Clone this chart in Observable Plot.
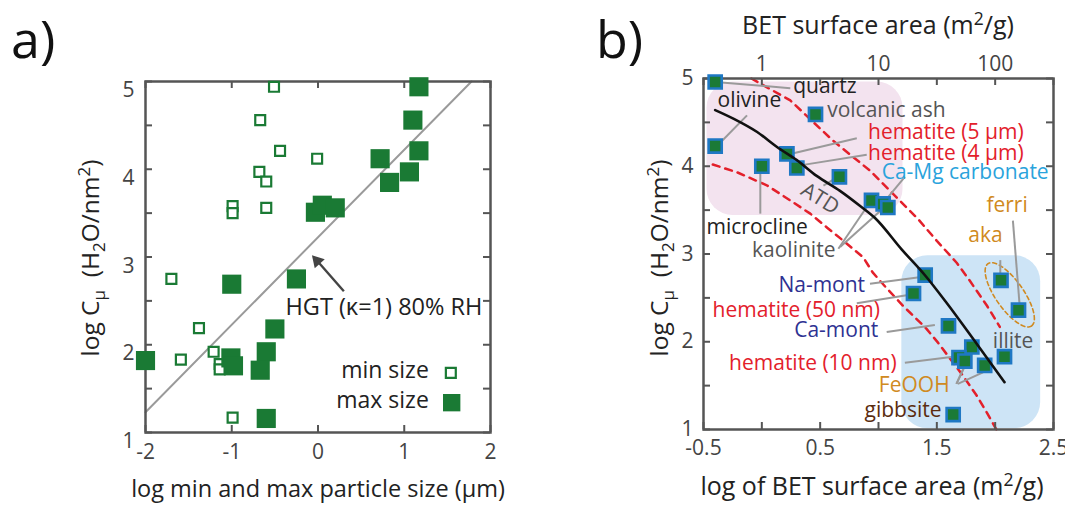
<!DOCTYPE html>
<html><head><meta charset="utf-8">
<script src="https://cdn.jsdelivr.net/npm/d3@7"></script>
<script src="https://cdn.jsdelivr.net/npm/@observablehq/plot@0.6"></script>
<style>
body{margin:0;background:#fff;font-family:"Open Sans",sans-serif;}
#wrap{position:relative;width:1065px;height:506px;overflow:hidden;background:#fff;}
.panel{position:absolute;top:0;}
</style></head><body><div id="wrap"></div>
<script>
const FONT = '"Open Sans", sans-serif';

// ---------- Panel a data ----------
const minSizeX = [-0.51,-0.67,-0.44,-0.01,-0.68,-0.60,-0.99,-0.99,-0.60,-1.70,-1.38,-1.59,-1.21,-1.14,-1.14,-0.99];
const minSizeY = [4.94,4.56,4.21,4.12,3.97,3.86,3.58,3.50,3.56,2.75,2.19,1.83,1.92,1.78,1.72,1.17];
const maxSizeX = [1.17,1.10,1.17,0.72,1.06,0.83,-0.03,0.05,0.20,-1.00,-0.25,-0.50,-0.60,-1.01,-0.98,-0.67,-2.00,-0.60];
const maxSizeY = [4.94,4.56,4.21,4.12,3.97,3.85,3.51,3.59,3.56,2.69,2.75,2.18,1.92,1.85,1.76,1.71,1.82,1.16];
const hgtLineX = [-2, 1.78];
const hgtLineY = [1.23, 5];
const aXTicks = [-2,-1,0,1,2];
const aYTicks = [1,1.5,2,2.5,3,3.5,4,4.5,5];
const aYLabels = [1,2,3,4,5];

// ---------- Panel b data ----------
const bName = ["quartz","volcanic ash","olivine","microcline","hematite (5 μm)","hematite (4 μm)","ATD","kaolinite","Ca-Mg carbonate","kaolinite","Na-mont","hematite (50 nm)","aka","ferri","Ca-mont","FeOOH","hematite (10 nm)","FeOOH","FeOOH","illite","gibbsite"];
const bLogBET = [-0.40,0.46,-0.40,0.00,0.215,0.30,0.665,0.94,1.04,1.08,1.40,1.30,2.05,2.20,1.60,1.80,1.69,1.74,1.91,2.08,1.64];
const bLogC = [4.96,4.59,4.23,4.00,4.14,3.98,3.88,3.61,3.57,3.53,2.76,2.55,2.70,2.36,2.18,1.94,1.82,1.78,1.73,1.83,1.17];
const fitX = [-0.40,-0.24,-0.04,0.13,0.30,0.47,0.67,0.84,0.97,1.20,1.40,1.58,1.84,2.08];
const fitY = [4.64,4.54,4.39,4.22,4.07,3.89,3.72,3.55,3.41,3.05,2.755,2.45,1.98,1.54];
const dashUpperX = [-0.09,0.244,0.611,0.927,1.338,1.50,1.67,1.78,1.93,2.04];
const dashUpperY = [5.0,4.75,4.29,3.95,3.40,3.15,2.90,2.70,2.41,2.17];
const dashLowerX = [-0.42,-0.21,0.047,0.244,0.415,0.56,0.70,0.87,0.95,1.07,1.21,1.41,1.51,1.72,1.84,1.93,2.01];
const dashLowerY = [4.02,3.93,3.78,3.61,3.46,3.30,3.15,2.96,2.79,2.61,2.41,2.15,1.99,1.62,1.39,1.19,1.0];
const bXTicks = [-0.5,0,0.5,1,1.5,2,2.5];
const bXLabels = [-0.5,0.5,1.5,2.5];
const bYTicks = [1,1.5,2,2.5,3,3.5,4,4.5,5];
const bYLabels = [1,2,3,4,5];
const topTicks = [0,1,2];
const topTickLabels = ["1","10","100"];

// annotation labels (panel b)
const labText   = ["quartz","olivine","volcanic ash","hematite (5 μm)","hematite (4 μm)","Ca-Mg carbonate","ferri","aka","microcline","kaolinite","illite","Na-mont","hematite (50 nm)","Ca-mont","hematite (10 nm)","FeOOH","gibbsite"];
const labX      = [0.269,-0.38,0.56,0.91,0.91,1.027,1.925,1.77,-0.474,-0.084,1.98,0.885,1.013,0.998,1.155,1.61,1.54];
const labY      = [4.91,4.75,4.64,4.39,4.15,3.93,3.55,3.21,3.30,3.04,2.0,2.64,2.36,2.13,1.75,1.50,1.22];
const labColor  = ["#222","#222","#555","#e3202b","#e3202b","#2aa3dc","#d08a21","#d08a21","#222","#555","#555","#2e3192","#e3202b","#2e3192","#e3202b","#d08a21","#5b2c0f"];
const labAnchor = ["start","start","start","start","start","start","start","start","start","start","start","end","end","end","end","end","end"];
// leader lines (panel b)
const leadX1 = [-0.397,-0.355,0.244,0.329,0.528,-0.013,1.084,0.656,0.671,0.927,0.814,1.07,1.226,1.668,1.668,1.68,2.044,2.152];
const leadY1 = [4.96,4.27,4.14,4.01,3.78,3.95,3.65,3.06,3.08,2.66,2.44,2.11,1.76,1.52,1.52,1.52,2.93,3.38];
const leadX2 = [0.244,-0.127,0.814,0.899,0.628,-0.013,1.226,0.927,1.041,1.383,1.241,1.483,1.64,1.81,1.754,1.896,2.044,2.21];
const leadY2 = [4.89,4.58,4.32,4.13,3.86,3.46,3.88,3.59,3.52,2.74,2.53,2.19,1.83,1.92,1.77,1.65,2.76,2.41];

// ---------- build panel a ----------
const wrap = document.getElementById("wrap");
const H = 506;
const WA = 540, mA = {l:145, r:50, t:81, b:74};
const fwA = WA - mA.l - mA.r, fhA = H - mA.t - mA.b;
const green = "#1a7a34";
const minPts = minSizeX.map((x,i)=>({x, y:minSizeY[i]}));
const maxPts = maxSizeX.map((x,i)=>({x, y:maxSizeY[i]}));
const hgt = hgtLineX.map((x,i)=>({x, y:hgtLineY[i]}));

const plotA = Plot.plot({
  width: WA, height: H,
  marginLeft: mA.l, marginRight: mA.r, marginTop: mA.t, marginBottom: mA.b,
  x: {domain: [-2,2]}, y: {domain: [1,5]},
  style: {fontFamily: FONT, background: "transparent", overflow: "visible"},
  marks: [
    Plot.line(hgt, {x:"x", y:"y", stroke:"#9a9a9a", strokeWidth:2}),
    Plot.tickX(aXTicks, {insetTop: fhA-7, stroke:"#555", strokeWidth:2}),
    Plot.tickX(aXTicks, {insetBottom: fhA-7, stroke:"#555", strokeWidth:2}),
    Plot.tickY(aYTicks, {insetLeft: fwA-7, stroke:"#555", strokeWidth:2}),
    Plot.tickY(aYTicks, {insetRight: fwA-7, stroke:"#555", strokeWidth:2}),
    Plot.frame({stroke:"#555", strokeWidth:2.5}),
    Plot.axisX(aXTicks, {tickSize:0, tickPadding:12, fontSize:21, fill:"#444", label:null, tickFormat:d=>String(d)}),
    Plot.axisY(aYLabels, {tickSize:0, tickPadding:11, fontSize:21, fill:"#444", dy:9, label:null, tickFormat:d=>String(d)}),
    Plot.dot(minPts, {x:"x", y:"y", symbol:"square", r:5.6, fill:"white", stroke:green, strokeWidth:2.2}),
    Plot.dot(maxPts, {x:"x", y:"y", symbol:"square", r:10.8, fill:green}),
    Plot.link([{x1:0.30, y1:2.61, x2:0.0, y2:2.945}], {x1:"x1", y1:"y1", x2:"x2", y2:"y2", stroke:"#444", strokeWidth:2.4}),
    Plot.dot([{x:-0.01, y:2.955}], {x:"x", y:"y", symbol:"triangle", r:5, rotate:-42, fill:"#444"}),
    Plot.text(["HGT (κ=1) 80% RH"], {x:-0.377, y:2.42, text:d=>d, textAnchor:"start", fontSize:23.5, fill:"#222"}),
    Plot.text(["min size","max size"], {x:1.285, y:[1.70,1.36], text:d=>d, textAnchor:"end", fontSize:23, fill:"#222"}),
    Plot.dot([{x:1.54,y:1.68}], {x:"x", y:"y", symbol:"square", r:5.6, fill:"white", stroke:green, strokeWidth:2.2}),
    Plot.dot([{x:1.55,y:1.34}], {x:"x", y:"y", symbol:"square", r:9.8, fill:green})
  ]
});

// ---------- build panel b ----------
const WB = 525, mB = {l:163, r:12, t:78, b:77};
const fwB = WB - mB.l - mB.r, fhB = H - mB.t - mB.b;
const pxX = fwB/3, pxY = fhB/4; // pixels per unit
const bPts = bName.map((n,i)=>({name:n, x:bLogBET[i], y:bLogC[i]}));
const fit = fitX.map((x,i)=>({x, y:fitY[i]}));
const dUp = dashUpperX.map((x,i)=>({x, y:dashUpperY[i]}));
const dLo = dashLowerX.map((x,i)=>({x, y:dashLowerY[i]}));
const labs = labText.map((t,i)=>({t, x:labX[i], y:labY[i], c:labColor[i], a:labAnchor[i]}));
const leads = leadX1.map((x1,i)=>({x1, y1:leadY1[i], x2:leadX2[i], y2:leadY2[i]}));
// dashed ellipse around aka / ferri (center, semi-axes in px, tilt)
const ell = (() => {
  const cx = 2.125, cy = 2.535, a = 38, b = 14, th = 55*Math.PI/180, pts = [];
  for (let k=0;k<=72;k++){ const t=k/72*2*Math.PI;
    const px = a*Math.cos(t)*Math.cos(th) - b*Math.sin(t)*Math.sin(th);
    const py = a*Math.cos(t)*Math.sin(th) + b*Math.sin(t)*Math.cos(th);
    pts.push({x: cx + px/pxX, y: cy - py/pxY}); }
  return pts; })();

const plotB = Plot.plot({
  width: WB, height: H,
  marginLeft: mB.l, marginRight: mB.r, marginTop: mB.t, marginBottom: mB.b,
  x: {domain: [-0.5,2.5]}, y: {domain: [1,5]},
  color: {type: "identity"},
  style: {fontFamily: FONT, background: "transparent", overflow: "visible"},
  marks: [
    Plot.rect([{x1:-0.47,x2:1.21,y1:3.44,y2:4.96}], {x1:"x1",x2:"x2",y1:"y1",y2:"y2", fill:"#f3e3ef", rx:26}),
    Plot.rect([{x1:1.20,x2:2.39,y1:1.01,y2:2.98}], {x1:"x1",x2:"x2",y1:"y1",y2:"y2", fill:"#cde4f6", rx:26}),
    Plot.line(dUp, {x:"x", y:"y", stroke:"#e3202b", strokeWidth:2.5, strokeDasharray:"7,6"}),
    Plot.line(dLo, {x:"x", y:"y", stroke:"#e3202b", strokeWidth:2.5, strokeDasharray:"7,6"}),
    Plot.line(ell, {x:"x", y:"y", stroke:"#d08a21", strokeWidth:1.6, strokeDasharray:"4,3"}),
    Plot.tickX(bXTicks, {insetTop: fhB-7, stroke:"#555", strokeWidth:2}),
    Plot.tickX(bXTicks, {insetBottom: fhB-7, stroke:"#555", strokeWidth:2}),
    Plot.tickY(bYTicks, {insetLeft: fwB-7, stroke:"#555", strokeWidth:2}),
    Plot.tickY(bYTicks, {insetRight: fwB-7, stroke:"#555", strokeWidth:2}),
    Plot.frame({stroke:"#555", strokeWidth:2.5}),
    Plot.axisX(bXLabels, {tickSize:0, tickPadding:11, fontSize:21, fill:"#444", label:null, tickFormat:d=>String(d)}),
    Plot.axisX(topTicks, {anchor:"top", tickSize:0, tickPadding:8, fontSize:21, fill:"#444", label:null, tickFormat:d=>topTickLabels[topTicks.indexOf(d)]}),
    Plot.axisY(bYLabels, {tickSize:0, tickPadding:10, fontSize:21, fill:"#444", label:null, tickFormat:d=>String(d)}),
    Plot.link(leads, {x1:"x1", y1:"y1", x2:"x2", y2:"y2", stroke:"#9a9a9a", strokeWidth:2}),
    Plot.dot(bPts, {x:"x", y:"y", symbol:"square", r:7.4, fill:"#1b7a36", stroke:"#1f78c4", strokeWidth:2.6}),
    Plot.line(fit, {x:"x", y:"y", stroke:"#111", strokeWidth:2.6, curve:"monotone-x"}),
    Plot.text(labs.filter(d=>d.a==="start"), {x:"x", y:"y", text:"t", fill:"c", textAnchor:"start", fontSize:21}),
    Plot.text(labs.filter(d=>d.a==="end"), {x:"x", y:"y", text:"t", fill:"c", textAnchor:"end", fontSize:21}),
    Plot.text(["ATD"], {x:0.5, y:3.63, text:d=>d, rotate:32, fontSize:21, fill:"#555"})
  ]
});

function addYTitle(svg, cx, cy) {
  const t = d3.select(svg).append("text")
    .attr("transform", `translate(${cx},${cy}) rotate(-90)`)
    .attr("text-anchor","middle").attr("font-size",24.5).attr("fill","#222")
    .attr("font-family", FONT);
  t.append("tspan").text("log C");
  t.append("tspan").attr("dy",6).attr("font-size",17).text("μ");
  t.append("tspan").attr("dy",-6).text("\u00a0\u00a0(H");
  t.append("tspan").attr("dy",6).attr("font-size",17).text("2");
  t.append("tspan").attr("dy",-6).text("O/nm");
  t.append("tspan").attr("dy",-9).attr("font-size",17).text("2");
  t.append("tspan").attr("dy",9).text(")");
}
function addTitle(svg, cx, cy, size, parts, anchor = "middle", color = "#222") {
  const t = d3.select(svg).append("text")
    .attr("x", cx).attr("y", cy)
    .attr("text-anchor",anchor).attr("font-size",size).attr("fill",color)
    .attr("font-family", FONT);
  for (const p of parts) {
    const s = t.append("tspan").text(p.s);
    if (p.sup) s.attr("dy",-9).attr("font-size",size*0.7);
    if (p.back) s.attr("dy",9);
  }
}
addYTitle(plotA, 99, 258);
addTitle(plotA, 318, 497, 23.5, [{s:"log min and max particle size (μm)"}]);
addYTitle(plotB, 660-540+8, 258);
addTitle(plotB, 872-540, 495, 25, [{s:"log of BET surface area (m"},{s:"2",sup:true},{s:"/g)",back:true}]);
addTitle(plotB, 878-540, 34, 25, [{s:"BET surface area (m"},{s:"2",sup:true},{s:"/g)",back:true}]);
addTitle(plotA, 11, 58, 52, [{s:"a)"}], "start", "#111");
addTitle(plotB, 596-540, 58, 52, [{s:"b)"}], "start", "#111");

plotA.classList.add("panel"); plotA.style.left = "0px";
plotB.classList.add("panel"); plotB.style.left = "540px";
wrap.appendChild(plotA); wrap.appendChild(plotB);
</script></body></html>
